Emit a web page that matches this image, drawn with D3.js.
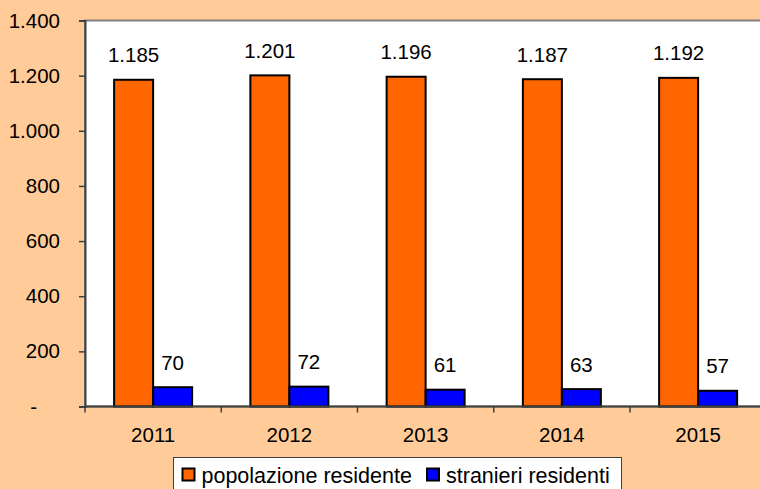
<!DOCTYPE html>
<html><head><meta charset="utf-8">
<script src="https://cdn.jsdelivr.net/npm/d3@7"></script>
<style>html,body{margin:0;padding:0;background:#FFCC99;}svg{display:block;font-family:"Liberation Sans",Arial,sans-serif;}</style>
</head><body>
<script>
const years = ["2011","2012","2013","2014","2015"];
const seriesNames = ["popolazione residente","stranieri residenti"];
const popolazione = [1185,1201,1196,1187,1192];
const stranieri = [70,72,61,63,57];
const yTicks = [0,200,400,600,800,1000,1200,1400];
const colors = ["#FF6600","#0000FF"];

const W=760,H=489;
const svg=d3.select("body").append("svg").attr("width",W).attr("height",H);
svg.append("rect").attr("width",W).attr("height",H).attr("fill","#FFCC99");

const x0=85, x1=766.25, yTop=20.5, yBot=406.5;
const x=d3.scaleBand().domain(years).range([x0,x1]).paddingInner(0.4275).paddingOuter(0.4275/2);
const xs=d3.scaleBand().domain([0,1]).range([0,x.bandwidth()]);
const y=d3.scaleLinear().domain([0,1400]).range([yBot,yTop]);
const fmt=d3.formatLocale({decimal:",",thousands:".",grouping:[3],currency:["€",""]}).format(",d");

// plot area
svg.append("rect").attr("x",x0).attr("y",yTop).attr("width",x1-x0+5).attr("height",yBot-yTop)
  .attr("fill","#fff").attr("stroke","#808080").attr("stroke-width",2);

const data=years.map((yr,i)=>({yr,vals:[popolazione[i],stranieri[i]]}));
const g=svg.append("g");
data.forEach(d=>{
  d.vals.forEach((v,j)=>{
    const bx=x(d.yr)+xs(j);
    g.append("rect").attr("x",bx).attr("y",y(v)).attr("width",xs.bandwidth()).attr("height",yBot-y(v))
      .attr("fill",colors[j]).attr("stroke","#000").attr("stroke-width",2);
    g.append("text").attr("x",bx+xs.bandwidth()/2).attr("y",y(v)-17.5).attr("text-anchor","middle")
      .attr("font-size",20.5).attr("fill","#000").text(fmt(v));
  });
});

// y axis
const ya=svg.append("g").attr("transform",`translate(${x0},0)`)
  .call(d3.axisLeft(y).tickValues(yTicks).tickSize(6).tickPadding(19).tickFormat(v=>v===0?"-":fmt(v)));
ya.select(".domain").attr("stroke","#404040").attr("stroke-width",2);
ya.selectAll(".tick line").attr("stroke","#404040").attr("stroke-width",1.5);
ya.selectAll(".tick text").attr("font-size",20.5).attr("fill","#000").attr("font-family","Liberation Sans, Arial, sans-serif");
ya.selectAll(".tick text").filter(v=>v===0).attr("x",-48);

// x axis
const xa=svg.append("g").attr("transform",`translate(0,${yBot})`);
xa.append("line").attr("x1",x0).attr("x2",W).attr("stroke","#404040").attr("stroke-width",2);
const bounds=years.map((yr)=>x(yr)-x.step()*x.paddingOuter()).concat([x1]);
bounds.forEach(b=>xa.append("line").attr("x1",b).attr("x2",b).attr("y1",0).attr("y2",6).attr("stroke","#404040").attr("stroke-width",1.5));
years.forEach(yr=>xa.append("text").attr("x",x(yr)+x.bandwidth()/2).attr("y",35.5).attr("text-anchor","middle")
  .attr("font-size",20.5).attr("fill","#000").text(yr));

// legend
const lg=svg.append("g");
lg.append("rect").attr("x",173.5).attr("y",457.5).attr("width",448).attr("height",40).attr("fill","#fff").attr("stroke","#404040").attr("stroke-width",1);
const lx=[182.5,427];
seriesNames.forEach((n,j)=>{
  lg.append("rect").attr("x",lx[j]).attr("y",468.5).attr("width",12).attr("height",12).attr("fill",colors[j]).attr("stroke","#000").attr("stroke-width",2);
  lg.append("text").attr("x",lx[j]+19).attr("y",483).attr("font-size",21.5).attr("fill","#000").text(n);
});
</script>
</body></html>
